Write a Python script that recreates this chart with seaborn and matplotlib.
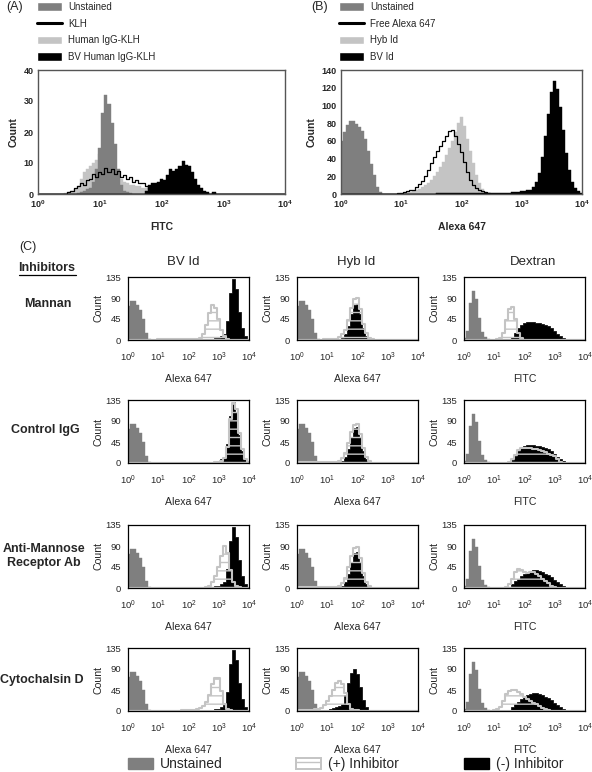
import numpy as np
import matplotlib

matplotlib.use("Agg")
import matplotlib.pyplot as plt  # noqa: E402
import seaborn as sns  # noqa: E402
from matplotlib.patches import Patch  # noqa: E402
from matplotlib.lines import Line2D  # noqa: E402
from matplotlib.ticker import LogLocator, NullFormatter  # noqa: E402

W, H = 592, 772

# bin centres in log10 units
LOG_AB = np.round(np.arange(0, 4.0001, 0.05), 2)   # panels A, B (81 bins)
LOG_C = np.round(np.arange(0, 4.0001, 0.1), 1)     # panel C (41 bins)

# ---------------- panel A (FITC) ----------------
A_UNSTAINED = [
    0, 0, 0, 0, 0, 0, 0, 0, 0, 0,
    0, 0, 0, 0.3, 0.5, 1, 1.5, 2, 4, 8,
    15, 26, 32, 29, 23, 16, 8, 3, 1, 0.5,
    0.3, 0, 0, 0, 0, 0, 0, 0, 0, 0,
    0, 0, 0, 0, 0, 0, 0, 0, 0, 0,
    0, 0, 0, 0, 0, 0, 0, 0, 0, 0,
    0, 0, 0, 0, 0, 0, 0, 0, 0, 0,
    0, 0, 0, 0, 0, 0, 0, 0, 0, 0,
    0,
]
A_KLH = [
    0, 0, 0, 0, 0, 0, 0, 0, 0, 0,
    0.5, 1, 2, 2.5, 3.5, 3, 4.5, 5, 6.5, 5.5,
    7, 6.5, 8.5, 7, 8, 6.5, 7.5, 5.5, 6, 5,
    5.5, 4, 4.5, 3.5, 3.5, 2.5, 1.5, 1, 0.5, 0.3,
    0, 0, 0, 0, 0, 0, 0, 0, 0, 0,
    0, 0, 0, 0, 0, 0, 0, 0, 0, 0,
    0, 0, 0, 0, 0, 0, 0, 0, 0, 0,
    0, 0, 0, 0, 0, 0, 0, 0, 0, 0,
    0,
]
A_HUMAN_IGG = [
    0, 0, 0, 0, 0, 0, 0, 0, 0, 0.3,
    0.5, 1, 1.5, 2.5, 5, 7, 8, 9, 10, 11,
    13, 14, 11, 9, 7, 6, 6, 5, 4, 3.5,
    3, 3, 2.5, 2.5, 2, 2, 1, 0, 0, 0,
    0, 0, 0, 0, 0, 0, 0, 0, 0, 0,
    0, 0, 0, 0, 0, 0, 0, 0, 0, 0,
    0, 0, 0, 0, 0, 0, 0, 0, 0, 0,
    0, 0, 0, 0, 0, 0, 0, 0, 0, 0,
    0,
]
A_BV_HUMAN_IGG = [
    0, 0, 0, 0, 0, 0, 0, 0, 0, 0,
    0, 0, 0, 0, 0, 0, 0, 0, 0, 0,
    0, 0, 0, 0, 0, 0, 0, 0, 0, 0,
    0, 0, 0, 0, 0, 1, 3, 3.5, 3.5, 4,
    5, 4.5, 6, 8, 7.5, 8, 9, 10.5, 9.5, 9,
    7, 5, 3, 2, 1, 0.5, 0, 0.5, 0, 0,
    0, 0, 0, 0, 0, 0, 0, 0, 0, 0,
    0, 0, 0, 0, 0, 0, 0, 0, 0, 0,
    0,
]

# ---------------- panel B (Alexa 647) ----------------
B_UNSTAINED = [
    60, 70, 78, 82, 82, 79, 76, 71, 62, 49,
    34, 22, 8, 2, 0, 0, 0, 0, 0, 0,
    0, 0, 0, 0, 0, 0, 0, 0, 0, 0,
    0, 0, 0, 0, 0, 0, 0, 0, 0, 0,
    0, 0, 0, 0, 0, 0, 0, 0, 0, 0,
    0, 0, 0, 0, 0, 0, 0, 0, 0, 0,
    0, 0, 0, 0, 0, 0, 0, 0, 0, 0,
    0, 0, 0, 0, 0, 0, 0, 0, 0, 0,
    0,
]
B_FREE_ALEXA = [
    0, 0, 0, 0, 0, 0, 0, 0, 0, 0,
    0, 0, 0, 0, 0, 0, 0, 0, 0.5, 1,
    1.5, 2, 3, 4, 5, 8, 11, 15, 20, 27,
    35, 42, 48, 54, 60, 66, 71, 72, 65, 56,
    47, 36, 25, 16, 10, 7, 5, 3, 2, 1,
    0.5, 0, 0, 0, 0, 0, 0, 0, 0, 0,
    0, 0, 0, 0, 0, 0, 0, 0, 0, 0,
    0, 0, 0, 0, 0, 0, 0, 0, 0, 0,
    0,
]
B_HYB_ID = [
    2, 2, 2, 2, 2, 2, 2, 2, 2, 2,
    2, 2, 1.5, 0.5, 0, 0, 0, 0, 0, 0.5,
    1, 1.5, 2, 2.5, 3, 4, 6, 8, 10, 12,
    16, 20, 25, 30, 36, 44, 52, 60, 70, 80,
    87, 77, 62, 49, 35, 22, 12, 6, 2, 1,
    0.5, 0, 0, 0, 0, 0, 0, 0, 0, 0,
    0, 0, 0, 0, 0, 0, 0, 0, 0, 0,
    0, 0, 0, 0, 0, 0, 0, 0, 0, 0,
    0,
]
B_BV_ID = [
    0, 0, 0, 0, 0, 0, 0, 0, 0, 0,
    0, 0, 0, 0, 0, 0, 0, 0, 0, 0,
    0, 0, 0, 0, 0, 0, 0, 0, 0, 0,
    0, 0, 1, 1, 1, 1, 1, 1, 1, 1,
    1, 1, 1, 1, 1, 1, 1, 1, 1, 1.5,
    1.5, 1.5, 1.5, 1.5, 1.5, 1.5, 1.5, 2, 2, 2.5,
    3, 3.5, 4, 5, 8, 13, 24, 42, 66, 90,
    115, 128, 118, 98, 72, 46, 27, 14, 7, 3,
    1,
]

# ---------------- panel C ----------------
C_UNSTAINED_ALEXA = [
    72, 84, 83, 76, 64, 44, 14, 2, 1, 1,
    0.5, 0, 0, 0, 0, 0, 0, 0, 0, 0,
    0, 0, 0, 0, 0, 0, 0, 0, 0, 0,
    0, 0, 0, 0, 0, 0, 0, 0, 0, 0,
    0,
]
C_UNSTAINED_FITC = [
    5, 20, 80, 106, 88, 48, 18, 6, 2, 1,
    0.5, 0, 0, 0, 0, 0, 0, 0, 0, 0,
    0, 0, 0, 0, 0, 0, 0, 0, 0, 0,
    0, 0, 0, 0, 0, 0, 0, 0, 0, 0,
    0,
]
# (-) inhibitor
C_BV_MINUS = [
    0, 0, 0, 0, 0, 0, 0, 0, 0, 0,
    0, 0, 0, 0, 0, 0, 0, 0, 1, 1,
    1, 1, 1, 1, 1.5, 2, 2, 2, 3, 4,
    5, 8, 13, 40, 100, 130, 110, 60, 26, 8,
    2,
]
C_HYB_MINUS = [
    0, 0, 0, 0, 0, 0, 0, 0, 0, 0,
    0, 0, 0, 0, 2, 5, 12, 30, 55, 75,
    78, 55, 25, 8, 2, 1, 0, 0, 0, 0,
    0, 0, 0, 0, 0, 0, 0, 0, 0, 0,
    0,
]
C_HYB_MINUS_CYTO = [
    0, 0, 0, 0, 0, 0, 0, 0, 0, 0,
    3, 4, 6, 8, 10, 16, 34, 60, 82, 90,
    80, 52, 24, 8, 3, 1, 0, 0, 0, 0,
    0, 0, 0, 0, 0, 0, 0, 0, 0, 0,
    0,
]
C_DEX_MINUS = [
    0, 0, 0, 0, 0, 0, 0, 0, 1, 1,
    1, 1, 1, 1, 1, 2, 6, 14, 26, 33,
    36, 38, 38, 38, 37, 36, 34, 32, 30, 25,
    20, 13, 8, 4, 1.5, 0.5, 0, 0, 0, 0,
    0,
]
C_DEX_MINUS_CYTO = [
    0, 0, 0, 0, 0, 0, 0, 0, 0, 0,
    1, 1, 1, 1, 1, 3, 8, 14, 20, 25,
    30, 34, 37, 38, 38, 37, 35, 31, 27, 23,
    18, 12, 8, 5, 2, 0.5, 0, 0, 0, 0,
    0,
]
# (+) inhibitor, BV Id column
C_BV_MANNAN = [
    0, 0, 0, 0, 0, 0, 0, 0, 0, 0,
    2, 2, 2, 2, 2, 2, 2, 2, 2, 2,
    2, 2, 2, 3, 5, 12, 32, 58, 76, 68,
    45, 22, 8, 3, 1, 0, 0, 0, 0, 0,
    0,
]
C_BV_CONTROL = [
    0, 0, 0, 0, 0, 0, 0, 0, 0, 0,
    0, 0, 0, 0, 0, 0, 0, 0, 0, 0,
    0, 0, 0, 0, 0, 0, 0, 1, 1, 2,
    3, 5, 10, 35, 95, 128, 115, 65, 30, 8,
    2,
]
C_BV_ANTI_MR = [
    0, 0, 0, 0, 0, 0, 0, 0, 0, 0,
    0, 0, 0, 0, 0, 0, 0, 0, 0, 0,
    1, 1, 1, 1, 1, 1, 2, 5, 12, 25,
    44, 68, 90, 75, 38, 12, 4, 2, 0, 0,
    0,
]
C_BV_CYTO = [
    0, 0, 0, 0, 0, 0, 0, 0, 0, 0,
    0, 0, 0, 0, 0, 0, 0, 0, 2, 2,
    2, 2, 3, 4, 6, 10, 20, 35, 58, 70,
    70, 42, 15, 5, 2, 0, 0, 0, 0, 0,
    0,
]
# (+) inhibitor, Hyb Id column
C_HYB_MANNAN = [
    0, 0, 0, 0, 0, 0, 0, 0, 0, 2,
    2, 2, 2, 3, 6, 12, 22, 42, 68, 88,
    90, 66, 35, 14, 5, 2, 0, 0, 0, 0,
    0, 0, 0, 0, 0, 0, 0, 0, 0, 0,
    0,
]
C_HYB_CONTROL = [
    3, 3, 3, 3, 3, 3, 3, 3, 3, 3,
    3, 3, 3, 3, 5, 10, 22, 42, 66, 82,
    84, 62, 32, 12, 4, 1, 0, 0, 0, 0,
    0, 0, 0, 0, 0, 0, 0, 0, 0, 0,
    0,
]
C_HYB_ANTI_MR = [
    3, 3, 3, 3, 3, 3, 3, 3, 3, 3,
    3, 3, 3, 3, 5, 10, 22, 44, 68, 86,
    88, 64, 32, 12, 4, 1, 0, 0, 0, 0,
    0, 0, 0, 0, 0, 0, 0, 0, 0, 0,
    0,
]
C_HYB_CYTO = [
    2, 2, 2, 2, 3, 3, 4, 5, 7, 12,
    22, 33, 46, 60, 64, 58, 38, 16, 5, 2,
    2, 1, 0, 0, 0, 0, 0, 0, 0, 0,
    0, 0, 0, 0, 0, 0, 0, 0, 0, 0,
    0,
]
# (+) inhibitor, Dextran column
C_DEX_MANNAN = [
    0, 0, 0, 0, 0, 0, 0, 0, 0, 0,
    1, 2, 5, 14, 42, 66, 70, 46, 16, 4,
    1, 0, 0, 0, 0, 0, 0, 0, 0, 0,
    0, 0, 0, 0, 0, 0, 0, 0, 0, 0,
    0,
]
C_DEX_CONTROL = [
    0, 0, 0, 0, 0, 0, 0, 0, 0, 0,
    0, 0, 0, 0, 0, 3, 8, 18, 28, 32,
    33, 32, 32, 31, 30, 28, 26, 23, 20, 17,
    14, 8, 3, 1, 0, 0, 0, 0, 0, 0,
    0,
]
C_DEX_ANTI_MR = [
    0, 0, 0, 0, 0, 0, 0, 0, 0, 0,
    0, 0, 0, 0, 3, 8, 20, 34, 40, 38,
    34, 33, 35, 34, 30, 25, 20, 15, 10, 5,
    2, 1, 0, 0, 0, 0, 0, 0, 0, 0,
    0,
]
C_DEX_CYTO = [
    0, 0, 0, 0, 0, 0, 0, 0, 0, 0,
    2, 4, 9, 22, 36, 42, 45, 44, 40, 36,
    30, 25, 21, 17, 14, 10, 7, 4, 2, 1,
    0, 0, 0, 0, 0, 0, 0, 0, 0, 0,
    0,
]

ROW_LABELS = ["Mannan", "Control IgG", "Anti-Mannose\nReceptor Ab", "Cytochalsin D"]
COL_TITLES = ["BV Id", "Hyb Id", "Dextran"]
COL_XLABELS = ["Alexa 647", "Alexa 647", "FITC"]
C_UNSTAINED = [C_UNSTAINED_ALEXA, C_UNSTAINED_ALEXA, C_UNSTAINED_FITC]
C_MINUS = [
    [C_BV_MINUS, C_HYB_MINUS, C_DEX_MINUS],
    [C_BV_MINUS, C_HYB_MINUS, C_DEX_MINUS],
    [C_BV_MINUS, C_HYB_MINUS, C_DEX_MINUS_CYTO],
    [C_BV_MINUS, C_HYB_MINUS_CYTO, C_DEX_MINUS_CYTO],
]
C_PLUS = [
    [C_BV_MANNAN, C_HYB_MANNAN, C_DEX_MANNAN],
    [C_BV_CONTROL, C_HYB_CONTROL, C_DEX_CONTROL],
    [C_BV_ANTI_MR, C_HYB_ANTI_MR, C_DEX_ANTI_MR],
    [C_BV_CYTO, C_HYB_CYTO, C_DEX_CYTO],
]

DARK = "#7f7f7f"
LIGHT = "#c4c4c4"
CLEAR = (1, 1, 1, 0)


def hist(ax, logx, counts, fill=True, **kws):
    step = float(logx[1] - logx[0])
    if fill:
        kws.setdefault("alpha", 1)
    sns.histplot(x=np.power(10.0, logx), weights=counts, log_scale=True,
                 binwidth=step, binrange=(logx[0] - step / 2, logx[-1] + step / 2),
                 element="step", fill=fill, ax=ax, **kws)


def px_axes(fig, left, top, width, height):
    return fig.add_axes([left / W, 1 - (top + height) / H, width / W, height / H])


def ftext(fig, x, y, s, **kw):
    fig.text(x / W, 1 - y / H, s, ha="center", va="center", **kw)


def style_top(ax, ymax, yticks, xlabel):
    ax.set_xlim(1, 1e4)
    ax.set_ylim(0, ymax)
    ax.set_xticks([1, 10, 100, 1000, 10000],
                  labels=[r"$\mathbf{10^{%d}}$" % i for i in range(5)])
    ax.xaxis.set_minor_locator(LogLocator(base=10, subs=np.arange(2, 10)))
    ax.xaxis.set_minor_formatter(NullFormatter())
    ax.set_yticks(yticks, labels=[str(t) for t in yticks], fontweight="bold")
    ax.tick_params(axis="both", which="major", labelsize=6.5, length=1.5, width=0.6,
                   pad=1.5, color="#555555")
    ax.tick_params(axis="x", which="minor", length=1, width=0.5, color="#555555")
    ax.set_xlabel(xlabel, fontsize=7.5, fontweight="bold", labelpad=9)
    ax.set_ylabel("Count", fontsize=7.5, fontweight="bold", labelpad=4)
    for s in ax.spines.values():
        s.set_color("#555555")
        s.set_linewidth(1.0)


def style_small(ax, xlabel):
    ax.set_xlim(1, 1e4)
    ax.set_ylim(0, 135)
    ax.set_xticks([1, 10, 100, 1000, 10000], labels=[r"$10^{%d}$" % i for i in range(5)])
    ax.xaxis.set_minor_locator(LogLocator(base=10, subs=np.arange(2, 10)))
    ax.xaxis.set_minor_formatter(NullFormatter())
    ax.set_yticks([0, 45, 90, 135])
    ax.tick_params(axis="both", which="major", labelsize=6.8, length=3, width=0.7, pad=2,
                   direction="out")
    ax.tick_params(axis="x", which="major", length=3.5, pad=4.5)
    ax.tick_params(axis="x", which="minor", length=1.8, width=0.5, direction="out")
    ax.set_xlabel(xlabel, fontsize=7.6, labelpad=7)
    ax.set_ylabel("Count", fontsize=7.6, labelpad=1)
    for s in ax.spines.values():
        s.set_color("black")
        s.set_linewidth(0.9)


def main():
    sns.set_style("white")
    plt.rcParams["font.family"] = ["Liberation Sans", "DejaVu Sans"]
    plt.rcParams["mathtext.fontset"] = "custom"
    plt.rcParams["mathtext.rm"] = "Liberation Sans"
    plt.rcParams["mathtext.bf"] = "Liberation Sans:bold"
    plt.rcParams["mathtext.it"] = "Liberation Sans:italic"
    plt.rcParams["hatch.linewidth"] = 1.0

    fig = plt.figure(figsize=(W / 100, H / 100), dpi=100)

    # ---- panel A ----
    ax = px_axes(fig, 38, 70, 247, 124)
    hist(ax, LOG_AB, A_HUMAN_IGG, color=LIGHT, edgecolor=LIGHT, linewidth=0.3)
    hist(ax, LOG_AB, A_UNSTAINED, color=DARK, edgecolor=DARK, linewidth=0.3)
    hist(ax, LOG_AB, A_BV_HUMAN_IGG, color="black", edgecolor="black", linewidth=0.3)
    hist(ax, LOG_AB, A_KLH, fill=False, color="black", linewidth=0.9)
    style_top(ax, 40, [0, 10, 20, 30, 40], "FITC")
    handles = [Patch(facecolor=DARK), Line2D([], [], color="black", lw=2.2),
               Patch(facecolor=LIGHT), Patch(facecolor="black")]
    fig.legend(handles, ["Unstained", "KLH", "Human IgG-KLH", "BV Human IgG-KLH"],
               loc="upper left", bbox_to_anchor=(37 / W, 1 - 2 / H), frameon=False,
               fontsize=7, handlelength=2.6, handleheight=1.0, handletextpad=0.6,
               labelspacing=0.68, borderpad=0, borderaxespad=0)

    # ---- panel B ----
    ax = px_axes(fig, 341, 70, 241, 124)
    hist(ax, LOG_AB, B_HYB_ID, color=LIGHT, edgecolor=LIGHT, linewidth=0.3)
    hist(ax, LOG_AB, B_UNSTAINED, color=DARK, edgecolor=DARK, linewidth=0.3)
    hist(ax, LOG_AB, B_BV_ID, color="black", edgecolor="black", linewidth=0.3)
    hist(ax, LOG_AB, B_FREE_ALEXA, fill=False, color="black", linewidth=0.9)
    style_top(ax, 140, [0, 20, 40, 60, 80, 100, 120, 140], "Alexa 647")
    handles = [Patch(facecolor=DARK), Line2D([], [], color="black", lw=2.2),
               Patch(facecolor=LIGHT), Patch(facecolor="black")]
    fig.legend(handles, ["Unstained", "Free Alexa 647", "Hyb Id", "BV Id"],
               loc="upper left", bbox_to_anchor=(339 / W, 1 - 2 / H), frameon=False,
               fontsize=7, handlelength=2.6, handleheight=1.0, handletextpad=0.6,
               labelspacing=0.68, borderpad=0, borderaxespad=0)

    ftext(fig, 15, 7, "(A)", fontsize=9)
    ftext(fig, 320, 7, "(B)", fontsize=9)

    # ---- panel C ----
    col_left = [128, 297, 464]
    row_top = [277, 400, 525, 648]
    for r in range(4):
        for c in range(3):
            ax = px_axes(fig, col_left[c], row_top[r], 121, 63)
            hist(ax, LOG_C, C_UNSTAINED[c], color=DARK, edgecolor=DARK, linewidth=0.3)
            hist(ax, LOG_C, C_MINUS[r][c], color="black", edgecolor="black",
                 linewidth=0.5)
            hist(ax, LOG_C, C_PLUS[r][c], color=LIGHT, facecolor=CLEAR, edgecolor=LIGHT,
                 linewidth=1.5, hatch="--")
            style_small(ax, COL_XLABELS[c])

    ftext(fig, 28, 247, "(C)", fontsize=9)
    ftext(fig, 47, 268, "Inhibitors", fontsize=9, fontweight="bold")
    fig.add_artist(Line2D([19 / W, 76 / W], [1 - 275 / H] * 2, transform=fig.transFigure,
                          color="black", lw=0.9))
    for x, t in zip([183, 356, 533], COL_TITLES):
        ftext(fig, x, 262, t, fontsize=9.5)
    for (x, y), t in zip([(48, 304), (45, 430), (44, 556), (42, 680)], ROW_LABELS):
        ftext(fig, x, y, t, fontsize=9, fontweight="bold", linespacing=1.2)

    # ---- bottom legend ----
    entries = [
        (128, Patch(facecolor=DARK, edgecolor=DARK), "Unstained"),
        (296, Patch(facecolor="white", edgecolor=LIGHT, linewidth=1.4, hatch="--"),
         "(+) Inhibitor"),
        (464, Patch(facecolor="black", edgecolor="black"), "(-) Inhibitor"),
    ]
    for x, h, lab in entries:
        fig.legend([h], [lab], loc="center left", bbox_to_anchor=(x / W, 1 - 764 / H),
                   frameon=False, fontsize=10, handlelength=1.8, handleheight=0.85,
                   handletextpad=0.5, borderpad=0, borderaxespad=0)

    fig.savefig("out.png", dpi=100)
    plt.close(fig)


if __name__ == "__main__":
    main()
